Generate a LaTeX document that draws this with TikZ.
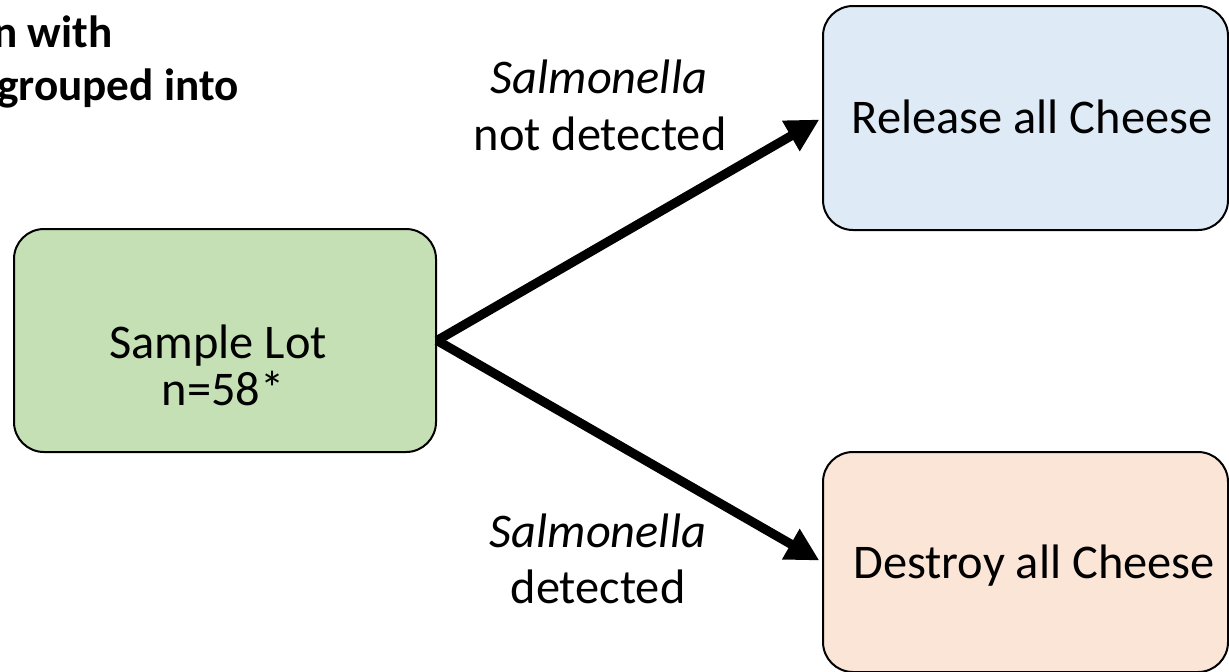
\documentclass[tikz,border=0pt]{standalone}
\usepackage{fontspec}
\setmainfont{Carlito}
\usetikzlibrary{arrows.meta}

\definecolor{lotgreen}{HTML}{C5E0B4}
\definecolor{relblue}{HTML}{DEEBF7}
\definecolor{desorange}{HTML}{FBE5D6}

\tikzset{
  box/.style={draw=black, line width=1pt, rounded corners=15pt, inner sep=0pt},
  txt/.style={anchor=base, inner sep=0pt, font=\fontsize{24.2}{29}\selectfont},
  head/.style={anchor=base east, inner sep=0pt, font=\fontsize{22.6}{27}\selectfont\bfseries},
  flow/.style={line width=4.6pt, -{Triangle[length=16.5pt,width=16.5pt]}, shorten >=1.5pt}
}

\begin{document}
\begin{tikzpicture}[x=0.5pt, y=-0.5pt]
  \useasboundingbox (0,0) rectangle (1229,671);
  \clip (0,0) rectangle (1229,671);
  \fill[white] (0,0) rectangle (1229,671);

  % heading tails running in from the left
  \node[head] (h1) at (113,47) {n with};
  \node[head] (h2) at (239,100) {grouped into};

  % boxes
  \node[box, fill=lotgreen, minimum width=211pt, minimum height=111.5pt] (lot) at (225,340.5) {};
  \node[box, fill=relblue, minimum width=202.5pt, minimum height=112pt] (rel) at (1025.5,118) {};
  \node[box, fill=desorange, minimum width=202.5pt, minimum height=110pt] (des) at (1025.5,562) {};

  % box texts
  \node[txt] (lot1) at (218,358) {Sample Lot};
  \node[txt] (lot2) at (223,405) {n=58*};
  \node[txt] (relt) at (1032,133) {Release all Cheese};
  \node[txt] (dest) at (1034,578) {Destroy all Cheese};

  % decision arrows
  \draw[flow] (lot.east) -- (rel.west);
  \draw[flow] (lot.east) -- (des.west);

  % arrow labels
  \node[txt] (up1) at (599,93) {\itshape Salmonella};
  \node[txt] (up2) at (600,150) {not detected};
  \node[txt] (dn1) at (598,547) {\itshape Salmonella};
  \node[txt] (dn2) at (598,603) {detected};
\end{tikzpicture}
\end{document}
